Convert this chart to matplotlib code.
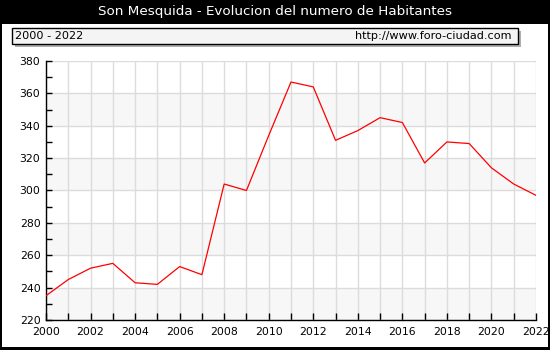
import matplotlib.pyplot as plt
from matplotlib.patches import Rectangle
from matplotlib.ticker import MultipleLocator

years = list(range(2000, 2023))
habitantes = [235, 245, 252, 255, 243, 242, 253, 248, 304, 300, 334, 367,
              364, 331, 337, 345, 342, 317, 330, 329, 314, 304, 297]
titulo = "Son Mesquida - Evolucion del numero de Habitantes"
periodo = "2000 - 2022"
web = "http://www.foro-ciudad.com"

W, H = 550, 350
fig = plt.figure(figsize=(W / 100, H / 100), dpi=100, facecolor="black")

# white panel under the title bar
fig.patches.append(Rectangle((2 / W, 3 / H), 546 / W, 323 / H, transform=fig.transFigure,
                             facecolor="white", edgecolor="none", zorder=-5))
fig.text(0.5, 1 - 12 / H, titulo, color="white", ha="center", va="center", fontsize=9.7)

# legend strip with shadow
fig.patches.append(Rectangle((15 / W, 1 - 47 / H), 506 / W, 16 / H, transform=fig.transFigure,
                             facecolor="#b0b0b0", edgecolor="none", zorder=1))
fig.patches.append(Rectangle((12 / W, 1 - 44 / H), 506 / W, 16 / H, transform=fig.transFigure,
                             facecolor="#f4f4f4", edgecolor="black", linewidth=1, zorder=2))
fig.text(15 / W, 1 - 36 / H, periodo, ha="left", va="center", fontsize=8.1, zorder=3)
fig.text(511 / W, 1 - 36 / H, web, ha="right", va="center", fontsize=8.1, zorder=3)

ax = fig.add_axes([46 / W, 30 / H, 490 / W, 259 / H])
ax.set_zorder(5)
ax.set_xlim(2000, 2022)
ax.set_ylim(220, 380)

# alternating bands
for y0 in range(220, 380, 40):
    ax.axhspan(y0, y0 + 20, color="#f7f7f7", zorder=0, linewidth=0)

ax.xaxis.set_major_locator(MultipleLocator(2))
ax.xaxis.set_minor_locator(MultipleLocator(1))
ax.yaxis.set_major_locator(MultipleLocator(20))
ax.yaxis.set_minor_locator(MultipleLocator(10))
ax.grid(True, which="major", axis="y", color="#dcdcdc", linewidth=1)
ax.grid(True, which="both", axis="x", color="#dcdcdc", linewidth=1)
ax.set_axisbelow(True)

ax.plot(years, habitantes, color="red", linewidth=0.9, zorder=3)

for s in ["top", "right"]:
    ax.spines[s].set_visible(False)
ax.spines["left"].set_linewidth(1)
ax.spines["bottom"].set_linewidth(1)
ax.tick_params(which="both", direction="in", length=4, width=1, labelsize=7.8, pad=4)
ax.tick_params(axis="x", which="both", length=5, pad=5)

fig.savefig("out.png", dpi=100, facecolor="black")
